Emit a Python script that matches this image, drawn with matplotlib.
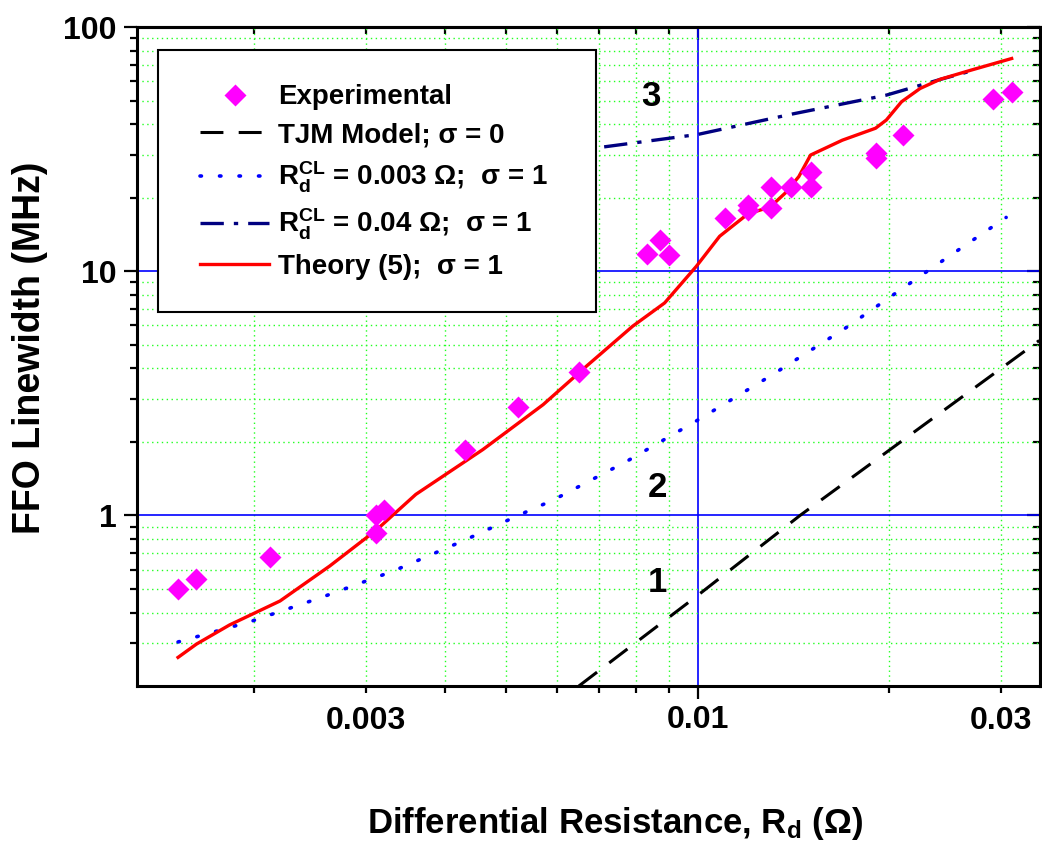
import matplotlib
matplotlib.use("Agg")
import matplotlib.pyplot as plt
from matplotlib.patches import Rectangle

plt.rcParams["font.family"] = ["Liberation Sans", "DejaVu Sans"]
plt.rcParams["font.weight"] = "bold"
plt.rcParams["mathtext.fontset"] = "custom"
plt.rcParams["mathtext.rm"] = "Liberation Sans:bold"
plt.rcParams["mathtext.it"] = "Liberation Sans:bold"
plt.rcParams["mathtext.bf"] = "Liberation Sans:bold"

# experimental points (Rd in Ohm, linewidth in MHz)
exp_rd = [0.00152, 0.00162, 0.00212, 0.00312, 0.00321, 0.00312, 0.0043, 0.00521,
          0.0065, 0.00833, 0.00872, 0.00901, 0.01103, 0.01201, 0.01201, 0.01304,
          0.01304, 0.01404, 0.01506, 0.01506, 0.01906, 0.01906, 0.02107, 0.02915, 0.03122]
exp_lw = [0.50, 0.547, 0.673, 1.0, 1.05, 0.844, 1.86, 2.77,
          3.88, 11.77, 13.4, 11.7, 16.5, 18.7, 17.85, 22.1,
          18.1, 22.2, 25.6, 22.2, 30.4, 29.0, 36.1, 50.5, 54.3]

# TJM model, sigma = 0
tjm_rd = [0.0065, 0.01, 0.0145, 0.0345]
tjm_lw = [0.2, 0.47, 1.0, 5.2]

# Rd^CL = 0.003 Ohm, sigma = 1
cl003_rd = [0.00152, 0.001975, 0.00256, 0.00332, 0.0043, 0.00522, 0.00593,
            0.00775, 0.01007, 0.01312, 0.01706, 0.0235, 0.0306]
cl003_lw = [0.303, 0.367, 0.462, 0.592, 0.792, 1.0, 1.157,
            1.67, 2.48, 3.77, 5.83, 10.4, 16.6]

# Rd^CL = 0.04 Ohm, sigma = 1
cl04_rd = [0.006, 0.00694, 0.01, 0.01408, 0.01982, 0.0241, 0.0275]
cl04_lw = [30.8, 32.0, 36.3, 44.0, 52.6, 61.0, 67.0]

# Theory (5), sigma = 1
th_rd = [0.00152, 0.001625, 0.001833, 0.0022, 0.002634, 0.00312, 0.0036, 0.00459,
         0.00571, 0.00668, 0.0079, 0.00887, 0.00995, 0.01083, 0.01201, 0.01246,
         0.0130, 0.01374, 0.01443, 0.01506, 0.0169, 0.01906, 0.01982, 0.02094,
         0.0224, 0.0241, 0.0269, 0.03122]
th_lw = [0.262, 0.297, 0.356, 0.446, 0.620, 0.871, 1.219, 1.86,
         2.84, 4.08, 5.95, 7.41, 10.46, 13.9, 17.2, 17.7,
         18.3, 20.9, 24.4, 29.9, 34.4, 38.5, 41.6, 49.4,
         56.0, 61.1, 66.5, 74.3]

# curve numbers
note_x = [0.00864, 0.00864, 0.00845]
note_y = [0.532, 1.30, 52.1]
note_txt = ["1", "2", "3"]

x_major = [0.01]
x_major_labels = ["0.01"]
x_minor = [0.002, 0.003, 0.004, 0.005, 0.006, 0.007, 0.008, 0.009, 0.02, 0.03]
x_minor_labels = ["", "0.003", "", "", "", "", "", "", "", "0.03"]
y_major = [1, 10, 100]
y_major_labels = ["1", "10", "100"]
y_minor = [0.3, 0.4, 0.5, 0.6, 0.7, 0.8, 0.9, 2, 3, 4, 5, 6, 7, 8, 9,
           20, 30, 40, 50, 60, 70, 80, 90]

fig = plt.figure(figsize=(10.42, 8.52), dpi=100)
ax = fig.add_axes([0.1315, 0.1948, 0.8666, 0.7735])
ax.set_xscale("log")
ax.set_yscale("log")

h_tjm, = ax.plot(tjm_rd, tjm_lw, color="black", lw=2.2, ls=(0, (7.5, 5)), zorder=3)
h_003, = ax.plot(cl003_rd, cl003_lw, color="#0000ff", lw=2.6, ls=(0, (0.4, 5)),
                 dash_capstyle="round", zorder=3)
h_04, = ax.plot(cl04_rd, cl04_lw, color="#000080", lw=2.4, ls=(0, (7, 3, 1.3, 3)), zorder=3)
h_th, = ax.plot(th_rd, th_lw, color="#ff0000", lw=2.4, zorder=3)
h_exp, = ax.plot(exp_rd, exp_lw, "D", ms=11, color="#ff00ff", mec="none", zorder=3.5)

for xx, yy, tt in zip(note_x, note_y, note_txt):
    ax.text(xx, yy, tt, fontsize=25, ha="center", va="center")

ax.set_xlim(0.00131, 0.0346)
ax.set_ylim(0.2, 100)

ax.set_xticks(x_major, labels=x_major_labels)
ax.set_xticks(x_minor, labels=x_minor_labels, minor=True)
ax.set_yticks(y_major, labels=y_major_labels)
ax.set_yticks(y_minor, labels=[""] * len(y_minor), minor=True)

ax.grid(True, which="major", color="#0000ff", lw=1.2, ls="-")
ax.grid(True, which="minor", color="#22ff22", lw=1.0, ls=(0, (1, 2.5)))

ax.tick_params(which="both", direction="out", top=False, right=False, width=1.6,
               labelsize=23, color="black")
ax.tick_params(which="major", length=9.5)
ax.tick_params(which="minor", length=5)
ax.tick_params(axis="x", which="major", pad=4)
ax.tick_params(axis="x", which="minor", pad=9.5)
ax.tick_params(axis="y", which="major", pad=5)

# mirrored ticks on top and right, pointing inwards
sx = ax.secondary_xaxis("top")
sx.set_xticks(x_major, labels=[""])
sx.set_xticks(x_minor, labels=[""] * len(x_minor), minor=True)
sx.tick_params(which="both", direction="in", width=1.6)
sx.tick_params(which="major", length=9.5)
sx.tick_params(which="minor", length=5)
sy = ax.secondary_yaxis("right")
sy.set_yticks(y_major, labels=[""] * len(y_major))
sy.set_yticks(y_minor, labels=[""] * len(y_minor), minor=True)
sy.tick_params(which="both", direction="in", width=1.6)
sy.tick_params(which="major", length=9.5)
sy.tick_params(which="minor", length=5)

for a in [ax, sx, sy]:
    for s in a.spines.values():
        s.set_linewidth(2.2)

# legend box
box = Rectangle((0.0233, 0.5675), 0.485, 0.3975, transform=ax.transAxes,
                facecolor="white", edgecolor="black", lw=1.5, zorder=4)
ax.add_patch(box)
leg = ax.legend([h_exp, h_tjm, h_003, h_04, h_th],
                ["Experimental", "TJM Model; σ = 0",
                 "R$_d^{CL}$ = 0.003 Ω;  σ = 1",
                 "R$_d^{CL}$ = 0.04 Ω;  σ = 1",
                 "Theory (5);  σ = 1"],
                loc="upper left", bbox_to_anchor=(0.0698, 0.913), frameon=False,
                fontsize=20, handlelength=2.5, handletextpad=0.3, borderpad=0,
                borderaxespad=0, labelspacing=0.42, numpoints=1)
leg.set_zorder(5)

fig.text(615 / 1042, 1 - 823 / 852, "Differential Resistance, R$_d$ (Ω)",
         ha="center", va="center", fontsize=25)
fig.text(30 / 1042, 1 - 348 / 852, "FFO Linewidth (MHz)", rotation=90,
         ha="center", va="center", fontsize=27)

fig.savefig("out.png", dpi=100)
